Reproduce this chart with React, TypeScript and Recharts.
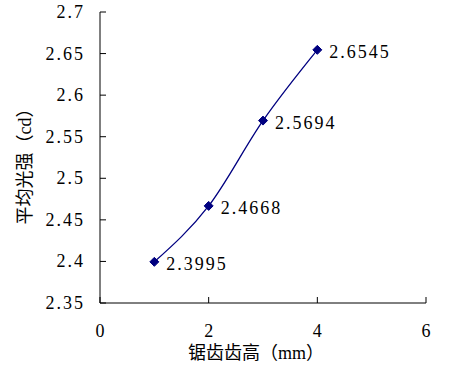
import { LineChart, Line, XAxis, YAxis, LabelList } from 'recharts';

// 锯齿齿高 (mm) vs 平均光强 (cd)
const toothHeight = [1, 2, 3, 4];
const avgIntensity = [2.3995, 2.4668, 2.5694, 2.6545];
const xTicks = [0, 2, 4, 6];
const yTicks = [2.35, 2.4, 2.45, 2.5, 2.55, 2.6, 2.65, 2.7];

const data = toothHeight.map((h, i) => ({ h, v: avgIntensity[i] }));

const NUM_FONT = '"Liberation Serif", "DejaVu Serif", serif';
const CJK_FONT = '"Liberation Serif", "Noto Sans CJK SC", sans-serif';
const NAVY = '#000080';

// y ticks: short tick pointing into the plot, label on the left
function YTick({ x, y, payload }: any) {
  return (
    <g>
      <line x1={x} x2={x + 6} y1={y} y2={y} stroke="#000" />
      <text x={x - 15} y={y} textAnchor="end" dominantBaseline="central"
        fontFamily={NUM_FONT} fontSize={18} letterSpacing={2} fill="#000">
        {String(payload.value)}
      </text>
    </g>
  );
}

// x ticks: tick goes upward into the plot
function XTick({ x, y, payload }: any) {
  return (
    <g>
      <line x1={x} x2={x} y1={y} y2={y - 6} stroke="#000" />
      <text x={x} y={y + 28} textAnchor="middle" dominantBaseline="central"
        fontFamily={NUM_FONT} fontSize={18} fill="#000">
        {String(payload.value)}
      </text>
    </g>
  );
}

function Diamond({ cx, cy }: any) {
  if (cx == null || cy == null) return null;
  const r = 4.5;
  return (
    <polygon
      points={`${cx},${cy - r} ${cx + r},${cy} ${cx},${cy + r} ${cx - r},${cy}`}
      fill={NAVY}
      stroke={NAVY}
    />
  );
}

function ValueLabel({ x, y, value }: any) {
  return (
    <text x={x + 12} y={y + 2} dominantBaseline="central"
      fontFamily={NUM_FONT} fontSize={18} letterSpacing={2} fill="#000">
      {value.toFixed(4)}
    </text>
  );
}

export default function App() {
  return (
    <div style={{ position: 'absolute', left: 0, top: 0, width: 450, height: 365, background: '#fff' }}>
      <LineChart width={450} height={365} data={data}
        margin={{ top: 12, right: 24, bottom: 7, left: 0 }}>
        <XAxis
          dataKey="h"
          type="number"
          domain={[0, 6]}
          ticks={xTicks}
          height={55}
          tickSize={0}
          tickMargin={0}
          tickLine={false}
          axisLine={{ stroke: '#000' }}
          tick={<XTick />}
          label={{
            content: ({ viewBox }: any) => (
              <text x={viewBox.x + viewBox.width / 2 - 7} y={viewBox.y + 50}
                textAnchor="middle" dominantBaseline="central"
                fontFamily={CJK_FONT} fontSize={18} fill="#000">
                锯齿齿高（mm）
              </text>
            ),
          }}
        />
        <YAxis
          type="number"
          domain={[2.35, 2.7]}
          ticks={yTicks}
          width={100}
          tickSize={0}
          tickMargin={0}
          tickLine={false}
          axisLine={{ stroke: '#000' }}
          tick={<YTick />}
          label={{
            content: () => (
              <text x={0} y={0} transform="translate(25,162) rotate(-90)"
                textAnchor="middle" dominantBaseline="central"
                fontFamily={CJK_FONT} fontSize={18} fill="#000">
                平均光强（cd）
              </text>
            ),
          }}
        />
        <Line
          dataKey="v"
          type="monotone"
          stroke={NAVY}
          strokeWidth={1.3}
          dot={<Diamond />}
          activeDot={false}
          isAnimationActive={false}
        >
          <LabelList dataKey="v" content={<ValueLabel />} />
        </Line>
      </LineChart>
    </div>
  );
}
